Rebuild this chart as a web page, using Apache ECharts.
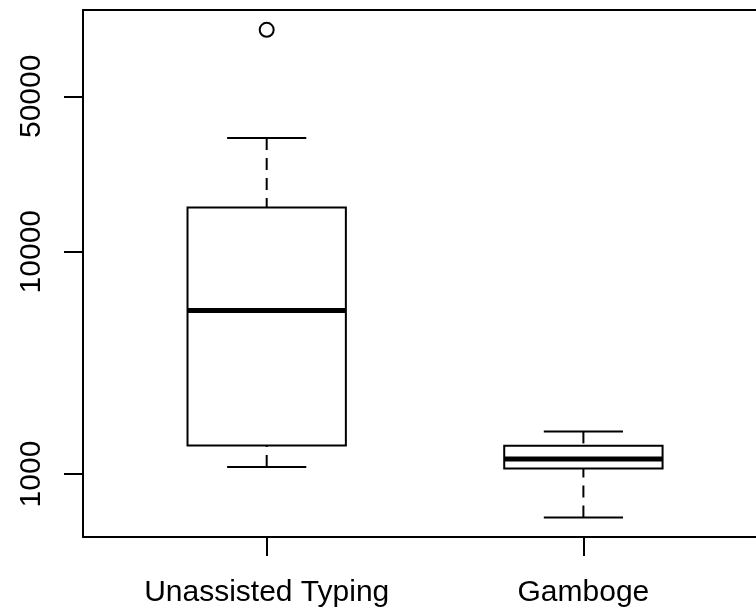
<!DOCTYPE html>
<html>
<head>
<meta charset="utf-8">
<script src="https://cdn.jsdelivr.net/npm/echarts@6/dist/echarts.min.js"></script>
<style>
html,body{margin:0;padding:0;background:#fff;}
#chart{width:756px;height:612px;}
</style>
</head>
<body>
<div id="chart"></div>
<script>
// ---- data ----
var categories = ["Unassisted Typing", "Gamboge"];
var whiskerLow = [1075, 638];
var q1 = [1345, 1060];
var median = [5440, 1169];
var q3 = [15825, 1341];
var whiskerHigh = [32480, 1555];
var outliers = [[1, 99500]];          // [group position, value]
var yTickLabels = [1000, 10000, 50000];
var yMin = 521, yMax = 122200;
var xMin = 0.42, xMax = 2.545;

// ---- build ----
var boxData = categories.map(function (c, i) {
  return [i + 1, whiskerLow[i], q1[i], median[i], q3[i], whiskerHigh[i]];
});
var catPositions = categories.map(function (c, i) { return i + 1; });
var yTickLogs = yTickLabels.map(function (v) { return Math.log10(v); });
var FONT = '"Liberation Sans", Arial, Helvetica, sans-serif';
var BOX_HALF = 0.25, CAP_HALF = 0.125;

var chart = echarts.init(document.getElementById('chart'), null, {renderer: 'canvas'});

function renderBox(params, api) {
  var x = api.value(0);
  var pLow = api.coord([x, api.value(1)]);
  var pQ1 = api.coord([x, api.value(2)]);
  var pMed = api.coord([x, api.value(3)]);
  var pQ3 = api.coord([x, api.value(4)]);
  var pHigh = api.coord([x, api.value(5)]);
  var cx = pMed[0];
  var hw = api.coord([x + BOX_HALF, api.value(3)])[0] - cx;
  var cw = api.coord([x + CAP_HALF, api.value(3)])[0] - cx;
  var solid = {stroke: '#000', lineWidth: 2, fill: null};
  var dashed = {stroke: '#000', lineWidth: 2, lineDash: [12, 8], fill: null};
  return {
    type: 'group',
    children: [
      {type: 'line', shape: {x1: cx, y1: pHigh[1], x2: cx, y2: pQ3[1]}, style: dashed},
      {type: 'line', shape: {x1: cx, y1: pLow[1], x2: cx, y2: pQ1[1]}, style: dashed},
      {type: 'line', shape: {x1: cx - cw, y1: pHigh[1], x2: cx + cw, y2: pHigh[1]}, style: solid},
      {type: 'line', shape: {x1: cx - cw, y1: pLow[1], x2: cx + cw, y2: pLow[1]}, style: solid},
      {type: 'rect', shape: {x: cx - hw, y: pQ3[1], width: 2 * hw, height: pQ1[1] - pQ3[1]},
        style: {stroke: '#000', lineWidth: 2, fill: '#fff'}},
      {type: 'line', shape: {x1: cx - hw, y1: pMed[1], x2: cx + hw, y2: pMed[1]},
        style: {stroke: '#000', lineWidth: 5}}
    ]
  };
}

var axisLineStyle = {color: '#000', width: 2};

var option = {
  backgroundColor: '#fff',
  animation: false,
  grid: {left: 83, top: 10, right: 0, bottom: 75, show: false},
  xAxis: [
    {
      type: 'value', min: xMin, max: xMax, position: 'bottom',
      axisLine: {show: true, onZero: false, lineStyle: axisLineStyle},
      splitLine: {show: false},
      axisTick: {show: true, customValues: catPositions, length: 19, lineStyle: axisLineStyle},
      axisLabel: {
        customValues: catPositions, margin: 41, fontSize: 30, color: '#000', fontFamily: FONT,
        formatter: function (v) { return categories[Math.round(v) - 1] || ''; }
      }
    },
    {
      type: 'value', min: xMin, max: xMax, position: 'top',
      axisLine: {show: true, onZero: false, lineStyle: axisLineStyle},
      axisTick: {show: false}, axisLabel: {show: false}, splitLine: {show: false}
    }
  ],
  yAxis: [
    {
      type: 'log', logBase: 10, min: yMin, max: yMax,
      show: false,
      splitLine: {show: false}
    },
    {
      type: 'value', position: 'left',
      min: Math.log10(yMin), max: Math.log10(yMax),
      axisLine: {show: true, onZero: false, lineStyle: axisLineStyle},
      splitLine: {show: false},
      axisTick: {show: true, customValues: yTickLogs, length: 19, lineStyle: axisLineStyle},
      axisLabel: {
        customValues: yTickLogs, rotate: 90, margin: 36, fontSize: 30, color: '#000', fontFamily: FONT,
        formatter: function (v) {
          var best = yTickLabels[0], d = Infinity;
          yTickLabels.forEach(function (t) { var dd = Math.abs(Math.log10(t) - v); if (dd < d) { d = dd; best = t; } });
          return String(best);
        }
      }
    }
  ],
  series: [
    {
      type: 'custom', coordinateSystem: 'cartesian2d', xAxisIndex: 0, yAxisIndex: 0,
      renderItem: renderBox, data: boxData, clip: false,
      encode: {x: 0, y: [1, 2, 3, 4, 5]}
    },
    {
      type: 'scatter', xAxisIndex: 0, yAxisIndex: 0, data: outliers,
      symbol: 'circle', symbolSize: 14,
      itemStyle: {color: '#fff', borderColor: '#000', borderWidth: 2, opacity: 1}
    }
  ]
};
chart.setOption(option);
</script>
</body>
</html>
